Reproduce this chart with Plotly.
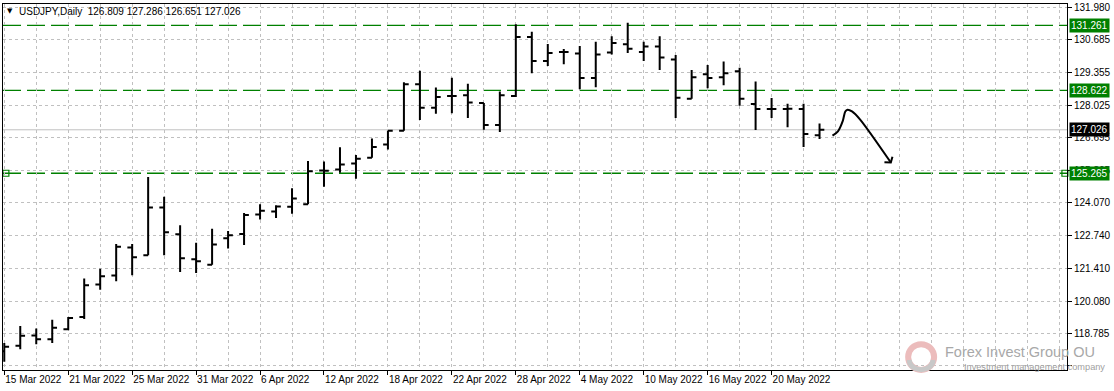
import plotly.graph_objects as go
from datetime import datetime

# ---------------- data ----------------
dates = [
    "2022-03-15", "2022-03-16", "2022-03-17", "2022-03-18", "2022-03-21", "2022-03-22",
    "2022-03-23", "2022-03-24", "2022-03-25", "2022-03-28", "2022-03-29", "2022-03-30",
    "2022-03-31", "2022-04-01", "2022-04-04", "2022-04-05", "2022-04-06", "2022-04-07",
    "2022-04-08", "2022-04-11", "2022-04-12", "2022-04-13", "2022-04-14", "2022-04-15",
    "2022-04-18", "2022-04-19", "2022-04-20", "2022-04-21", "2022-04-22", "2022-04-25",
    "2022-04-26", "2022-04-27", "2022-04-28", "2022-04-29", "2022-05-02", "2022-05-03",
    "2022-05-04", "2022-05-05", "2022-05-06", "2022-05-09", "2022-05-10", "2022-05-11",
    "2022-05-12", "2022-05-13", "2022-05-16", "2022-05-17", "2022-05-18", "2022-05-19",
    "2022-05-20", "2022-05-23", "2022-05-24", "2022-05-25",
]
opens = [118.05, 118.27, 118.69, 118.54, 118.94, 119.44, 120.76, 121.12, 122.26, 121.94,
         123.88, 122.79, 121.78, 121.56, 122.63, 122.80, 123.59, 123.71, 123.91, 124.01,
         125.38, 125.42, 125.66, 125.89, 126.43, 126.99, 128.87, 127.92, 128.40, 128.43,
         128.11, 127.22, 128.40, 130.79, 129.81, 130.18, 130.12, 129.12, 130.16, 130.49,
         130.18, 130.40, 129.87, 128.28, 129.28, 129.16, 129.40, 128.07, 127.87, 127.87,
         127.87, 126.809]
highs = [118.39, 119.07, 118.97, 119.33, 119.44, 121.00, 121.39, 122.40, 122.40, 125.11,
         124.31, 123.16, 122.45, 123.02, 122.92, 123.65, 124.01, 123.97, 124.66, 125.76,
         125.74, 126.32, 126.00, 126.67, 126.99, 128.95, 129.42, 128.74, 129.14, 128.89,
         128.11, 128.58, 131.30, 131.00, 130.50, 130.30, 130.42, 130.59, 130.82, 131.36,
         130.59, 130.82, 130.06, 129.45, 129.65, 129.79, 129.54, 128.98, 128.31, 128.08,
         128.08, 127.286]
lows = [117.63, 118.13, 118.33, 118.39, 118.90, 119.36, 120.54, 120.89, 121.13, 121.94,
        121.94, 121.26, 121.22, 121.56, 122.22, 122.36, 123.39, 123.45, 123.62, 124.01,
        124.72, 125.29, 125.04, 125.89, 126.23, 126.99, 127.42, 127.68, 127.70, 127.50,
        127.03, 126.94, 128.36, 129.32, 129.61, 129.68, 128.67, 128.75, 130.08, 130.14,
        129.81, 129.45, 127.50, 128.28, 128.71, 128.83, 128.00, 127.02, 127.50, 127.13,
        126.33, 126.651]
closes = [118.23, 118.68, 118.54, 119.00, 119.40, 120.73, 121.09, 122.29, 121.86, 123.88,
          122.87, 121.82, 121.70, 122.38, 122.75, 123.57, 123.74, 123.92, 124.24, 125.35,
          125.37, 125.62, 125.85, 126.33, 126.99, 128.87, 127.92, 128.35, 128.40, 128.13,
          127.22, 128.43, 130.79, 129.81, 130.14, 130.18, 129.12, 130.08, 130.54, 130.31,
          130.40, 129.96, 128.32, 129.16, 129.12, 129.32, 128.28, 127.87, 127.87, 127.88,
          126.86, 127.026]

price_ticks = [131.980, 130.685, 129.355, 128.025, 126.695, 125.365, 124.070,
               122.740, 121.410, 120.080, 118.785]
level_lines = [131.261, 128.622, 125.265]
bid_price = 127.026
title_text = "USDJPY,Daily  126.809 127.286 126.651 127.026"

# hand-drawn forecast arrow (bar index, price)
arrow_x = [51.81, 52.15, 52.46, 52.61, 52.75, 53.03, 53.54, 55.46]
arrow_y = [126.79, 126.965, 127.40, 127.77, 127.84, 127.77, 127.44, 125.70]
head_x = [55.06, 55.46, 55.56]
head_y = [125.715, 125.70, 125.93]

# ---------------- figure ----------------
idx = list(range(len(dates)))
label_idx = idx[::4]
label_txt = [datetime.strptime(dates[i], "%Y-%m-%d").strftime("%-d %b %Y") for i in label_idx]

AXFONT = dict(family="Liberation Sans, Arial, sans-serif", size=10, color="black")

fig = go.Figure()
fig.add_trace(go.Ohlc(
    x=idx, open=opens, high=highs, low=lows, close=closes,
    increasing=dict(line=dict(color="black", width=2)),
    decreasing=dict(line=dict(color="black", width=2)),
    tickwidth=0.3, showlegend=False, hoverinfo="skip",
))

# arrow
fig.add_trace(go.Scatter(x=arrow_x, y=arrow_y, mode="lines",
                         line=dict(color="black", width=2, shape="spline", smoothing=0.8),
                         showlegend=False, hoverinfo="skip"))
fig.add_trace(go.Scatter(x=head_x, y=head_y, mode="lines",
                         line=dict(color="black", width=2),
                         showlegend=False, hoverinfo="skip"))

# small square anchors on the lowest level line
fig.add_trace(go.Scatter(x=[0.1, 66.35], y=[level_lines[2]] * 2, mode="markers",
                         marker=dict(symbol="square-open", size=6, color="#008000",
                                     line=dict(width=1.2, color="#008000")),
                         cliponaxis=False, showlegend=False, hoverinfo="skip"))

shapes = []
for lv in level_lines:
    shapes.append(dict(type="line", xref="paper", x0=0, x1=1, yref="y", y0=lv, y1=lv,
                       line=dict(color="#008000", width=1.3, dash="18px,6px"), layer="below"))
shapes.append(dict(type="line", xref="paper", x0=0, x1=1, yref="y", y0=bid_price, y1=bid_price,
                   line=dict(color="#c0c0c0", width=1), layer="below"))

# watermark logo (circle)
def px(xp):
    return (xp - 2) / 1065.0

def py(yp):
    return (370 - yp) / 368.0

shapes.append(dict(type="circle", xref="paper", yref="paper",
                   x0=px(908), x1=px(934), y0=py(370), y1=py(344),
                   line=dict(color="#ecbcbc", width=6), fillcolor="rgba(0,0,0,0)"))
shapes.append(dict(type="path", xref="paper", yref="paper",
                   path=f"M {px(909)} {py(360)} C {px(910)} {py(373)}, {px(932)} {py(373)}, {px(933)} {py(360)}",
                   line=dict(color="#c8c8c8", width=5)))

annotations = []
# top-left title
annotations.append(dict(xref="paper", yref="paper", x=0, y=1, xshift=2, yshift=-1,
                        xanchor="left", yanchor="top", showarrow=False,
                        text="\u25BC", font=dict(family="DejaVu Sans", size=7, color="black")))
annotations.append(dict(xref="paper", yref="paper", x=0, y=1, xshift=14, yshift=0,
                        xanchor="left", yanchor="top", showarrow=False,
                        text=title_text, font=AXFONT))
# green price labels
for lv in level_lines:
    annotations.append(dict(xref="paper", yref="y", x=1, y=lv, xanchor="left", yanchor="middle",
                            xshift=2, showarrow=False, text=f"{lv:.3f}",
                            font=dict(family=AXFONT["family"], size=10, color="white"),
                            bgcolor="#008000", borderpad=1))
annotations.append(dict(xref="paper", yref="y", x=1, y=bid_price, xanchor="left", yanchor="middle",
                        xshift=2, showarrow=False, text=f"{bid_price:.3f}",
                        font=dict(family=AXFONT["family"], size=10, color="white"),
                        bgcolor="black", borderpad=1))
# watermark text
annotations.append(dict(xref="paper", yref="paper", x=px(943), y=py(352), xanchor="left",
                        yanchor="middle", showarrow=False, text="Forex Invest Group OU",
                        font=dict(family="Liberation Sans, sans-serif",
                                  size=14.5, color="#a8a8a8")))
annotations.append(dict(xref="paper", yref="paper", x=px(962), y=py(367), xanchor="left",
                        yanchor="middle", showarrow=False, text="Investment management company",
                        font=dict(family="Liberation Sans, sans-serif", size=9.2, color="#a0a0a0")))

GRID = "#c0c0c0"
fig.update_layout(
    width=1114, height=391,
    margin=dict(l=2, r=47, t=2, b=21, pad=0),
    paper_bgcolor="white", plot_bgcolor="white",
    shapes=shapes, annotations=annotations,
    xaxis=dict(
        range=[-0.08, 66.48], rangeslider=dict(visible=False),
        tickmode="array", tickvals=label_idx, ticktext=label_txt, tickangle=0,
        ticks="outside", ticklen=4, tickcolor="black",
        ticklabelposition="outside right",
        showgrid=True, gridcolor=GRID, griddash="3px,3px", gridwidth=1,
        minor=dict(tickmode="linear", tick0=0, dtick=2, showgrid=True, gridcolor=GRID,
                   griddash="3px,3px", ticks=""),
        showline=True, linecolor="black", linewidth=1, mirror=True,
        zeroline=False, tickfont=AXFONT,
    ),
    yaxis=dict(
        range=[117.291, 132.124], side="right",
        tickmode="array", tickvals=price_ticks + [117.455],
        ticktext=[f"{t:.3f}" for t in price_ticks] + [""],
        ticks="outside", ticklen=4, tickcolor="black",
        showgrid=True, gridcolor=GRID, griddash="3px,3px", gridwidth=1,
        showline=True, linecolor="black", linewidth=1, mirror=True,
        zeroline=False, tickfont=AXFONT,
    ),
)

fig.write_html("out.html")
